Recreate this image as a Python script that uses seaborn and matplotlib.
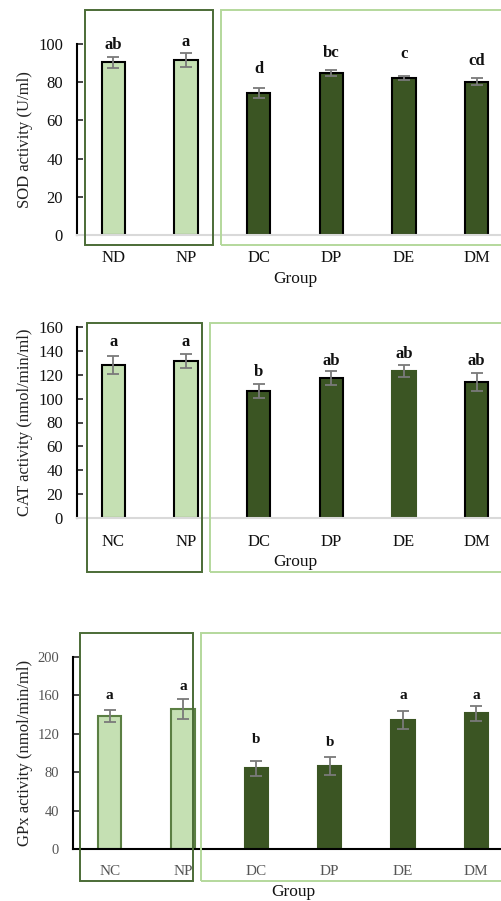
import matplotlib
matplotlib.use("Agg")
import matplotlib.pyplot as plt
from matplotlib.patches import Rectangle
import seaborn as sns
import pandas as pd

sns.set_theme(style="white")
plt.rcParams["font.family"] = ["Liberation Serif", "DejaVu Serif"]

# ---- data ----
sod_groups = ["ND", "NP", "DC", "DP", "DE", "DM"]
sod_mean = [90.4, 91.5, 74.3, 84.8, 82.4, 80.3]
sod_err = [3.0, 3.7, 2.5, 1.5, 1.0, 1.8]
sod_letters = ["ab", "a", "d", "bc", "c", "cd"]
sod_letter_y = [99.5, 101.2, 86.9, 95.3, 94.8, 91.1]

cat_groups = ["NC", "NP", "DC", "DP", "DE", "DM"]
cat_mean = [128.0, 131.6, 106.3, 116.9, 122.8, 113.6]
cat_err = [7.4, 5.7, 5.8, 5.7, 4.9, 7.6]
cat_letters = ["a", "a", "b", "ab", "ab", "ab"]
cat_letter_y = [147.5, 147.5, 122.4, 131.4, 137.2, 131.4]

gpx_groups = ["NC", "NP", "DC", "DP", "DE", "DM"]
gpx_mean = [138.4, 145.7, 84.1, 86.5, 134.3, 141.2]
gpx_err = [6.0, 10.4, 8.0, 9.3, 9.1, 8.1]
gpx_letters = ["a", "a", "b", "b", "a", "a"]
gpx_letter_y = [160.2, 168.8, 113.5, 111.1, 159.2, 159.2]

LIGHT = "#c5e0b3"
DARK = "#3b5523"
BOX_DARK = "#4b6b36"
BOX_LIGHT = "#b4d89c"
ERR = "#7a7a7a"

W, H = 502, 901
fig = plt.figure(figsize=(W / 100, H / 100), dpi=100)


def px_axes(left, top, right, bottom):
    return fig.add_axes([left / W, 1 - bottom / H, (right - left) / W, (bottom - top) / H])


def px_box(x0, y0, x1, y1, color):
    fig.add_artist(Rectangle((x0 / W, 1 - y1 / H), (x1 - x0) / W, (y1 - y0) / H,
                             transform=fig.transFigure, fill=False,
                             edgecolor=color, linewidth=1.4))


def panel(ax, groups, mean, err, letters, letter_y, ymax, step, ylabel,
          edges, base_color, tick_fs, tick_color, cat_fs, letter_fs, label_fs):
    df = pd.DataFrame({"Group": groups, "Value": mean})
    colors = [LIGHT, LIGHT, DARK, DARK, DARK, DARK]
    sns.barplot(data=df, x="Group", y="Value", hue="Group", palette=colors,
                width=0.32, legend=False, ax=ax, saturation=1)
    for patch, ec in zip(ax.patches, edges):
        patch.set_edgecolor(ec)
        patch.set_linewidth(1.5)
    ax.errorbar(range(len(groups)), mean, yerr=err, fmt="none", ecolor=ERR,
                elinewidth=1.3, capsize=4.2, capthick=1.3, zorder=5)
    for i, (t, y) in enumerate(zip(letters, letter_y)):
        ax.text(i, y, t, ha="center", va="center", fontsize=letter_fs,
                fontweight="bold", color="#111111", clip_on=False)
    ax.set_xlim(-0.5, len(groups) - 0.5)
    ax.set_ylim(0, ymax)
    ax.set_yticks(range(0, ymax + 1, step))
    ax.tick_params(axis="y", direction="in", length=4.5, width=1.2, left=True,
                   labelsize=tick_fs, labelcolor=tick_color, pad=10)
    ax.tick_params(axis="x", length=0, labelsize=cat_fs, labelcolor=tick_color, pad=11)
    for s in ["top", "right"]:
        ax.spines[s].set_visible(False)
    ax.spines["left"].set_color("black")
    ax.spines["left"].set_linewidth(1.5)
    ax.spines["bottom"].set_color(base_color)
    ax.spines["bottom"].set_linewidth(1.5)
    ax.set_facecolor("none")
    ax.set_ylabel(ylabel, fontsize=label_fs, color="#222222")
    ax.set_xlabel("Group", fontsize=12.5, color="#111111")
    ax.yaxis.label.set_verticalalignment("center")
    ax.xaxis.label.set_verticalalignment("center")


def place_labels(ax, left, right, top, bottom, ylab_x, group_x, group_y):
    w, h = right - left, bottom - top
    ax.yaxis.set_label_coords((ylab_x - left) / w, 0.5)
    ax.xaxis.set_label_coords((group_x - left) / w, -(group_y - bottom) / h)


# SOD
ax1 = px_axes(77, 44, 513, 235)
panel(ax1, sod_groups, sod_mean, sod_err, sod_letters, sod_letter_y, 100, 20,
      "SOD activity (U/ml)", ["black"] * 6, "#d9d9d9", 12, "#111111", 12, 12, 12)
place_labels(ax1, 77, 513, 44, 235, 25, 295, 279)
px_box(85, 10, 212.7, 245, BOX_DARK)
px_box(220.7, 10, 510, 245, BOX_LIGHT)

# CAT
ax2 = px_axes(77, 326.7, 513, 518.3)
panel(ax2, cat_groups, cat_mean, cat_err, cat_letters, cat_letter_y, 160, 20,
      "CAT activity (nmol/min/ml)",
      ["black", "black", "black", "black", DARK, "black"], "#d9d9d9",
      12, "#111111", 12, 12, 12)
place_labels(ax2, 77, 513, 326.7, 518.3, 25, 295, 562.3)
px_box(87.3, 323.3, 201.7, 571.7, BOX_DARK)
px_box(210, 323.3, 510, 571.7, BOX_LIGHT)

# GPx
ax3 = px_axes(73, 656.7, 513, 849.3)
panel(ax3, gpx_groups, gpx_mean, gpx_err, gpx_letters, gpx_letter_y, 200, 40,
      "GPx activity (nmol/min/ml)",
      ["#5b7f43", "#5b7f43", DARK, DARK, DARK, DARK], "black",
      10.5, "#555555", 11, 11, 12)
place_labels(ax3, 73, 513, 656.7, 849.3, 25, 293, 891.7)
px_box(80, 632.7, 192.7, 880.7, BOX_DARK)
px_box(201, 632.7, 510, 880.7, BOX_LIGHT)

fig.savefig("out.png", dpi=100)
